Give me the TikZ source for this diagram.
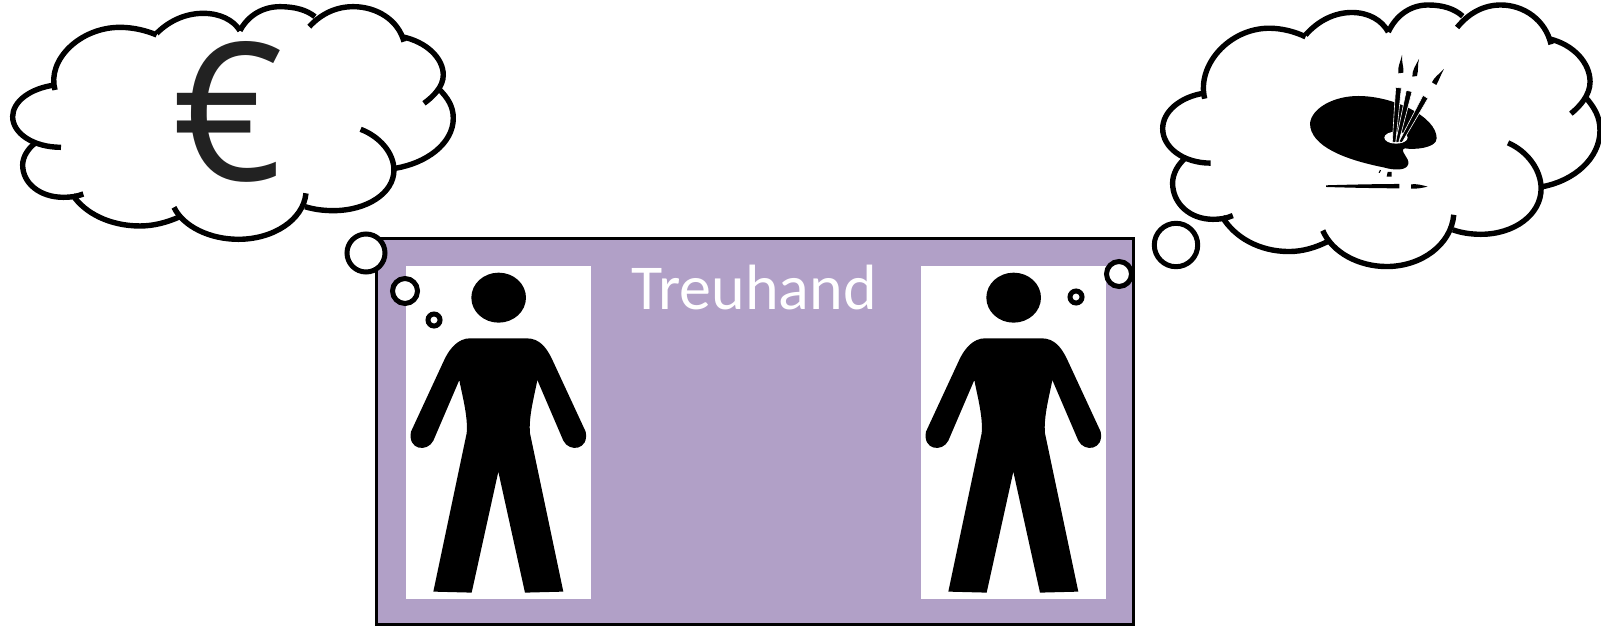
\documentclass[tikz,border=0pt]{standalone}
\usepackage{fontspec}
\setmainfont{Carlito}
\newfontfamily\eurofont{Open Sans}
\usepackage{xcolor}
\usepackage{tikz}
\definecolor{trustpurple}{RGB}{177, 160, 199}
\definecolor{eurogray}{RGB}{34, 34, 34}

\begin{document}
\begin{tikzpicture}[
      x=0.5pt, y=-0.5pt,
      trustbox/.style={rectangle, draw=black, line width=1.5pt, fill=trustpurple, outer sep=0pt},
      bubble/.style={circle, draw=black, line width=2.5pt, fill=white, inner sep=0pt},
      cloudline/.style={draw=black, line width=2.7pt},
      brush/.style={fill=black, draw=white, line width=0.3pt},
      pics/cloud/.style={code={
        \draw[cloudline] (165,270) .. controls (140,180) and (240,82) .. (360,82) .. controls (400,82) and (440,92) .. (470,105);
        \draw[cloudline] (470,100) .. controls (510,60) and (560,40) .. (610,40) .. controls (660,40) and (700,60) .. (720,92);
        \draw[cloudline] (720,92) .. controls (745,45) and (790,20) .. (840,20) .. controls (885,20) and (920,30) .. (945,50);
        \draw[cloudline] (928,80) .. controls (965,40) and (1010,20) .. (1060,20) .. controls (1130,20) and (1195,60) .. (1212,125);
        \draw[cloudline] (1205,110) .. controls (1280,125) and (1330,175) .. (1330,225) .. controls (1330,260) and (1300,290) .. (1272,310);
        \draw[cloudline] (1315,265) .. controls (1345,295) and (1360,320) .. (1360,355) .. controls (1360,430) and (1280,490) .. (1185,505);
        \draw[cloudline] (1082,388) .. controls (1140,410) and (1182,460) .. (1182,510) .. controls (1182,580) and (1100,632) .. (1000,632) .. controls (970,632) and (940,628) .. (915,620);
        \draw[cloudline] (918,580) .. controls (910,660) and (820,718) .. (715,718) .. controls (630,718) and (550,680) .. (522,622);
        \draw[cloudline] (540,650) .. controls (500,668) and (460,678) .. (420,678) .. controls (330,678) and (255,640) .. (218,585);
        \draw[cloudline] (250,582) .. controls (230,590) and (210,592) .. (190,592) .. controls (120,592) and (68,550) .. (68,495) .. controls (68,470) and (85,445) .. (105,430);
        \draw[cloudline] (183,442) .. controls (100,442) and (38,400) .. (38,350) .. controls (38,305) and (90,265) .. (165,255);
      }},
      pics/person/.style={code={
        \fill[white] (108,108) rectangle (663,1107);
        \fill[black] (386,203) ellipse (82 and 75);
        \fill[black] (300,325) -- (470,325) .. controls (510,325) and (530,355) .. (545,385)
          -- (647,605) .. controls (658,660) and (598,668) .. (580,632)
          -- (502,450) .. controls (495,490) and (475,560) .. (480,610)
          -- (580,1085) -- (465,1088) -- (385,725) -- (305,1088) -- (190,1085)
          -- (290,610) .. controls (295,560) and (275,490) .. (268,450)
          -- (190,632) .. controls (172,668) and (112,660) .. (123,605)
          -- (225,385) .. controls (240,355) and (265,325) .. (300,325) -- cycle;
      }},
      pics/palette/.style={code={
        \fill[black] (90,250) .. controls (95,205) and (160,168) .. (235,168) .. controls (340,168) and (470,230) .. (470,295)
          .. controls (470,325) and (400,330) .. (375,325) .. controls (355,330) and (390,355) .. (385,372)
          .. controls (380,392) and (345,392) .. (310,382) .. controls (200,360) and (90,320) .. (90,250) -- cycle;
        \fill[white] (348,293) ellipse (35 and 18);
        \filldraw[brush] (429,166) -- (444,175) -- (366,308) -- (357,305) -- cycle;
        \filldraw[brush] (379,151) -- (396,155) -- (356,308) -- (347,306) -- cycle;
        \filldraw[brush] (347,142) -- (364,144) -- (347,308) -- (337,306) -- cycle;
        \fill[black] (366,45) .. controls (364,65) and (372,80) .. (370,98) -- (355,100) .. controls (352,80) and (362,65) .. (366,45);
        \fill[black] (417,57) .. controls (412,75) and (416,90) .. (411,108) -- (397,110) .. controls (396,90) and (408,75) .. (417,57);
        \fill[black] (492,87) .. controls (482,105) and (478,118) .. (469,135) -- (456,127) .. controls (462,112) and (478,102) .. (492,87);
        \fill[black] (296,398) -- (300,390) -- (303,391) -- (299,399) -- cycle;
        \fill[black] (320,410) -- (323,396) -- (335,396) -- (335,410) -- cycle;
        \fill[black] (138,436) .. controls (200,434) and (300,432) .. (358,432) -- (358,445) .. controls (300,445) and (200,443) .. (138,441) -- cycle;
        \fill[black] (393,433) .. controls (410,431) and (425,435) .. (443,440) .. controls (425,444) and (410,447) .. (393,446) -- cycle;
      }}
    ]
      \useasboundingbox (0,0) rectangle (1601,626);
      % the two clouds
      \pic[scale=0.3333] (moneycloud) at (0,0) {cloud};
      \pic[xscale=0.3308, yscale=0.3747] (artcloud) at (1150.1,-2.5) {cloud};
      \node[font=\eurofont\fontsize{96}{110}\selectfont, text=eurogray, inner sep=0pt] (euro) at (228,112) {€};
      \pic[scale=0.3333] (palette) at (1280,40) {palette};

      \node[trustbox, minimum width=757pt/2, minimum height=386pt/2, anchor=north west] (treuhand) at (376,238) {};
      \pic[scale=0.3333] (personleft) at (370,230) {person};
      \pic[scale=0.3333] (personright) at (885,230) {person};
      \node[text=white, font=\fontsize{32}{36}\selectfont, inner sep=0pt] (label) at (754,288) {Treuhand};

      % thought bubbles
      \node[bubble, minimum size=19pt] (leftbig) at (366,253) {};
      \node[bubble, minimum size=12.5pt] (leftmid) at (405,291) {};
      \node[bubble, minimum size=6pt] (leftsmall) at (434,320) {};
      \node[bubble, minimum size=21.7pt] (rightbig) at (1176,245) {};
      \node[bubble, minimum size=12.5pt] (rightmid) at (1119,274) {};
      \node[bubble, minimum size=6pt] (rightsmall) at (1076,297) {};
    \end{tikzpicture}
\end{document}
